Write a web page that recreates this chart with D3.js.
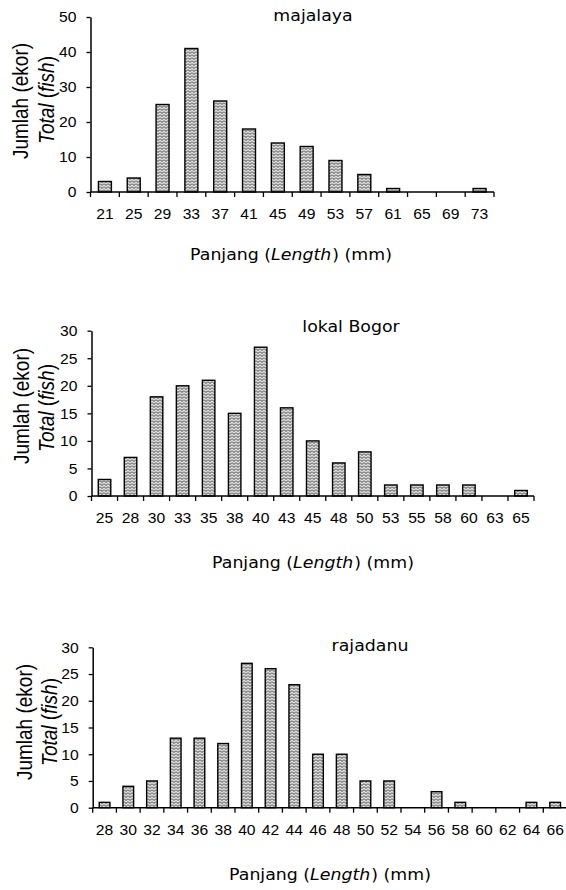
<!DOCTYPE html>
<html>
<head>
<meta charset="utf-8">
<script src="https://cdn.jsdelivr.net/npm/d3@7/dist/d3.min.js"></script>
<style>
  body { margin: 0; background: #fff; }
  svg { display: block; }
</style>
</head>
<body>
<div id="chart"></div>
<script>
// length classes (mm) and fish counts per population
const majalayaLengths = ['21', '25', '29', '33', '37', '41', '45', '49', '53', '57', '61', '65', '69', '73'];
const majalayaCounts = [3, 4, 25, 41, 26, 18, 14, 13, 9, 5, 1, 0, 0, 1];

const bogorLengths = ['25', '28', '30', '33', '35', '38', '40', '43', '45', '48', '50', '53', '55', '58', '60', '63', '65'];
const bogorCounts = [3, 7, 18, 20, 21, 15, 27, 16, 10, 6, 8, 2, 2, 2, 2, 0, 1];

const rajadanuLengths = ['28', '30', '32', '34', '36', '38', '40', '42', '44', '46', '48', '50', '52', '54', '56', '58', '60', '62', '64', '66'];
const rajadanuCounts = [1, 4, 5, 13, 13, 12, 27, 26, 23, 10, 10, 5, 5, 0, 3, 1, 0, 0, 1, 1];

const majalayaTicks = [0, 10, 20, 30, 40, 50];
const bogorTicks = [0, 5, 10, 15, 20, 25, 30];
const rajadanuTicks = [0, 5, 10, 15, 20, 25, 30];

const W = 566, H = 890;
const SX = 1.12; // the original text is a little wider than it is tall
const TICK_FONT = '"Liberation Sans", Arial, sans-serif';
const TITLE_FONT = '"DejaVu Sans", Verdana, sans-serif';

// layout for each panel
const panels = [
  { title: 'majalaya', lengths: majalayaLengths, counts: majalayaCounts, ticks: majalayaTicks,
    left: 90.5, right: 494, top: 17, bottom: 192, pad: 0.55,
    titleX: 313, titleY: 21, xTitleX: 291, xTitleY: 260, lab1: [28, 101], lab2: [54, 100] },
  { title: 'lokal Bogor', lengths: bogorLengths, counts: bogorCounts, ticks: bogorTicks,
    left: 91.5, right: 534, top: 330.7, bottom: 496, pad: 0.52,
    titleX: 351, titleY: 332, xTitleX: 313, xTitleY: 568, lab1: [29, 406], lab2: [54, 408] },
  { title: 'rajadanu', lengths: rajadanuLengths, counts: rajadanuCounts, ticks: rajadanuTicks,
    left: 92.7, right: 567, top: 647.3, bottom: 807.7, pad: 0.55,
    titleX: 370, titleY: 651, xTitleX: 330, xTitleY: 880, lab1: [32, 722], lab2: [57, 722] }
];

const svg = d3.select('#chart')
  .append('svg')
  .attr('width', W)
  .attr('height', H)
  .style('background', '#fff');

// zig-zag hatch like the excel fill
const pat = svg.append('defs').append('pattern')
  .attr('id', 'zig')
  .attr('patternUnits', 'userSpaceOnUse')
  .attr('width', 4)
  .attr('height', 3);
pat.append('rect').attr('width', 4).attr('height', 3).attr('fill', '#dcdcdc');
pat.append('path')
  .attr('d', 'M0,0.5 L2,2.5 L4,0.5')
  .attr('fill', 'none')
  .attr('stroke', '#444')
  .attr('stroke-width', 1);

panels.forEach(p => {
  const g = svg.append('g');
  const n = p.lengths.length;

  const x = d3.scaleBand()
    .domain(p.lengths)
    .range([p.left, p.right])
    .paddingInner(p.pad)
    .paddingOuter(p.pad / 2);

  const idx = d3.scaleLinear().domain([0, n]).range([p.left, p.right]);

  const y = d3.scaleLinear()
    .domain([0, d3.max(p.ticks)])
    .range([p.bottom, p.top]);

  // bars (zero counts draw nothing)
  const rows = p.lengths.map((len, i) => ({ len, v: p.counts[i] })).filter(d => d.v > 0);
  g.selectAll('rect.bar')
    .data(rows)
    .enter()
    .append('rect')
    .attr('class', 'bar')
    .attr('x', d => x(d.len))
    .attr('y', d => y(d.v))
    .attr('width', x.bandwidth())
    .attr('height', d => y(0) - y(d.v))
    .attr('fill', 'url(#zig)')
    .attr('stroke', '#000')
    .attr('stroke-width', 1.4);

  // y axis
  const yAxis = g.append('g')
    .attr('transform', `translate(${p.left},0)`)
    .call(d3.axisLeft(y).tickValues(p.ticks).tickSize(4).tickSizeOuter(0));
  yAxis.select('.domain').attr('stroke', '#000').attr('stroke-width', 1.5);
  yAxis.selectAll('.tick line').attr('stroke', '#000').attr('stroke-width', 1.3);
  yAxis.selectAll('.tick text')
    .attr('x', 0)
    .attr('dy', '0.35em')
    .attr('transform', `translate(-14,0) scale(${SX},1)`)
    .attr('fill', '#000')
    .style('font-family', TICK_FONT)
    .style('font-size', '14px');

  // x axis line + tick marks between classes
  g.append('line')
    .attr('x1', p.left).attr('x2', p.right)
    .attr('y1', p.bottom).attr('y2', p.bottom)
    .attr('stroke', '#000').attr('stroke-width', 1.5);
  g.selectAll('line.xtick')
    .data(d3.range(n + 1))
    .enter()
    .append('line')
    .attr('class', 'xtick')
    .attr('x1', d => idx(d)).attr('x2', d => idx(d))
    .attr('y1', p.bottom).attr('y2', p.bottom + 5)
    .attr('stroke', '#000').attr('stroke-width', 1.3);

  const xAxis = g.append('g')
    .attr('transform', `translate(0,${p.bottom})`)
    .call(d3.axisBottom(x).tickSize(0).tickSizeOuter(0));
  xAxis.select('.domain').remove();
  xAxis.selectAll('.tick text')
    .attr('y', 0)
    .attr('dy', null)
    .attr('transform', `translate(0,27) scale(${SX},1)`)
    .attr('fill', '#000')
    .style('font-family', TICK_FONT)
    .style('font-size', '14px');

  // panel title
  g.append('text')
    .attr('transform', `translate(${p.titleX},${p.titleY}) scale(${SX},1)`)
    .attr('text-anchor', 'middle')
    .style('font-family', TITLE_FONT)
    .style('font-size', '15.5px')
    .attr('fill', '#000')
    .text(p.title);

  // x title
  const xt = g.append('text')
    .attr('transform', `translate(${p.xTitleX},${p.xTitleY}) scale(${SX},1)`)
    .attr('text-anchor', 'middle')
    .style('font-family', TITLE_FONT)
    .style('font-size', '15.5px')
    .attr('fill', '#000');
  xt.append('tspan').text('Panjang (');
  xt.append('tspan').style('font-style', 'italic').text('Length');
  xt.append('tspan').attr('dx', 1).text(') (mm)');

  // y titles (two lines)
  g.append('text')
    .attr('transform', `translate(${p.lab1[0]},${p.lab1[1]}) scale(${SX},1) rotate(-90)`)
    .attr('text-anchor', 'middle')
    .style('font-family', TICK_FONT)
    .style('font-size', '19px')
    .attr('fill', '#000')
    .text('Jumlah (ekor)');

  const t2 = g.append('text')
    .attr('transform', `translate(${p.lab2[0]},${p.lab2[1]}) scale(${SX},1) rotate(-90)`)
    .attr('text-anchor', 'middle')
    .style('font-family', TICK_FONT)
    .style('font-size', '19px')
    .attr('fill', '#000');
  t2.append('tspan').style('font-style', 'italic').text('Total');
  t2.append('tspan').text(' (');
  t2.append('tspan').style('font-style', 'italic').text('fish');
  t2.append('tspan').text(')');
});
</script>
</body>
</html>
